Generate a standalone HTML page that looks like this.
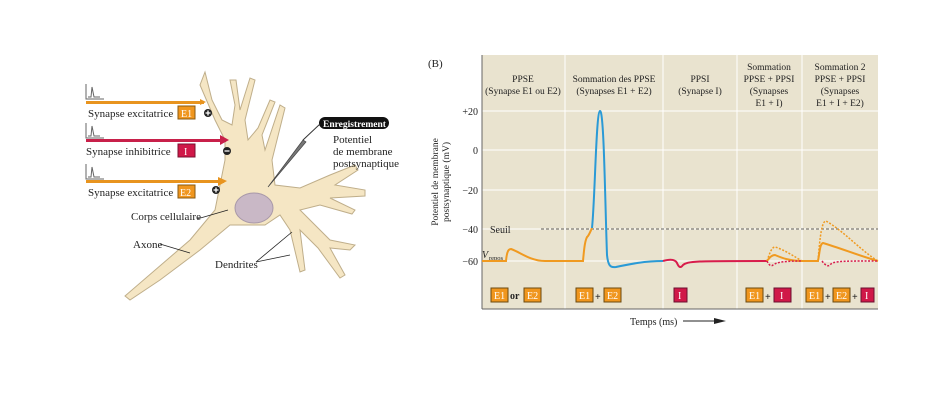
<!DOCTYPE html>
<html><head><meta charset="utf-8"><style>
body{margin:0;background:#fff;width:938px;height:402px;overflow:hidden}
svg text{font-family:"Liberation Serif",serif}
</style></head><body>
<svg width="938" height="402" viewBox="0 0 938 402" xmlns="http://www.w3.org/2000/svg">
<g stroke="#bfae8a" stroke-width="1" fill="#f5e6c4">
<path d="M205,72 L212,100 L222,120 L232,125 L235,105 L230,80 L236,80 L240,110 L250,78 L255,80 L245,120 L248,140 L258,128 L270,100 L275,102 L262,135 L265,150 L280,105 L285,108 L272,160 L275,185 L300,188 L330,175 L355,165 L358,170 L335,185 L365,190 L365,196 L330,198 L355,210 L352,214 L320,205 L300,210 L330,240 L355,245 L350,250 L330,248 L345,275 L340,278 L318,248 L300,230 L305,270 L300,272 L290,230 L280,215 L265,225 L230,225 L200,250 L160,280 L130,300 L125,296 L190,240 L215,210 L220,185 L225,160 L225,140 L215,120 L200,85 Z"/>
</g>
<ellipse cx="254" cy="208" rx="19" ry="15" fill="#c9b8c6" stroke="#a898a8"/>
<g stroke="#666" stroke-width="1" fill="none">
<polyline points="86,84 86,99 104,99"/><path d="M88,97 L91,97 L92,87 L94,97 L100,97"/>
<polyline points="86,123 86,138 104,138"/><path d="M88,136 L91,136 L92,126 L94,136 L100,136"/>
<polyline points="86,164 86,179 104,179"/><path d="M88,177 L91,177 L92,167 L94,177 L100,177"/>
</g>
<rect x="86" y="101" width="118" height="3" fill="#e8941f"/><path d="M200,99 L206,102 L200,105Z" fill="#e8941f"/>
<rect x="86" y="139" width="140" height="3" fill="#c8204a"/><path d="M220,135 L229,140 L220,145Z" fill="#c8204a"/>
<rect x="86" y="180" width="138" height="3" fill="#e8941f"/><path d="M218,177 L227,181 L218,186Z" fill="#e8941f"/>
<g font-size="11" fill="#222">
<text x="88" y="117">Synapse excitatrice</text>
<text x="86" y="155">Synapse inhibitrice</text>
<text x="88" y="196">Synapse excitatrice</text>
<text x="131" y="220">Corps cellulaire</text>
<text x="133" y="248">Axone</text>
<text x="215" y="268">Dendrites</text>
<text x="333" y="143">Potentiel</text>
<text x="333" y="155">de membrane</text>
<text x="333" y="167">postsynaptique</text>
</g>
<rect x="178" y="106" width="17" height="13" fill="#f0961e" stroke="#8a5a10"/><text x="181" y="117" font-size="10" fill="#fff">E1</text>
<rect x="178" y="144" width="17" height="13" fill="#d01848" stroke="#7a1030"/><text x="184" y="155" font-size="10" fill="#fff">I</text>
<rect x="178" y="185" width="17" height="13" fill="#f0961e" stroke="#8a5a10"/><text x="180" y="196" font-size="10" fill="#fff">E2</text>
<g fill="#222"><circle cx="208" cy="113" r="4"/><circle cx="227" cy="151" r="4"/><circle cx="216" cy="190" r="4"/></g>
<g stroke="#fff" stroke-width="1.3"><path d="M205.5,113h5M208,110.5v5M224.5,151h5M213.5,190h5M216,187.5v5"/></g>
<rect x="319" y="117" width="70" height="12" rx="6" fill="#111"/><text x="323" y="127" font-size="9.5" fill="#fff" font-weight="bold">Enregistrement</text>
<path d="M268,187 L303,140 L306,142Z" fill="#777" stroke="#444" stroke-width=".7"/>
<line x1="303" y1="140" x2="320" y2="124" stroke="#333"/>
<g stroke="#222" stroke-width=".8"><line x1="197" y1="219" x2="228" y2="210"/><line x1="160" y1="244" x2="190" y2="253"/><line x1="256" y1="262" x2="292" y2="232"/><line x1="256" y1="262" x2="290" y2="255"/></g>
<text x="428" y="67" font-size="11" fill="#222">(B)</text>
<rect x="482" y="55" width="396" height="254" fill="#e9e3cf"/>
<g stroke="#fff" stroke-width="1"><line x1="482" y1="111" x2="878" y2="111"/><line x1="482" y1="150" x2="878" y2="150"/><line x1="482" y1="190" x2="878" y2="190"/><line x1="482" y1="229" x2="878" y2="229"/><line x1="482" y1="261" x2="878" y2="261"/>
<line x1="565" y1="55" x2="565" y2="309"/><line x1="663" y1="55" x2="663" y2="309"/><line x1="737" y1="55" x2="737" y2="309"/><line x1="802" y1="55" x2="802" y2="309"/></g>
<line x1="482" y1="55" x2="482" y2="309" stroke="#666"/><line x1="482" y1="309" x2="878" y2="309" stroke="#666"/>
<g font-size="10" fill="#222" text-anchor="end"><text x="478" y="115">+20</text><text x="478" y="154">0</text><text x="478" y="194">−20</text><text x="478" y="233">−40</text><text x="478" y="265">−60</text></g>
<text transform="translate(438,182) rotate(-90)" font-size="9.5" fill="#222" text-anchor="middle">Potentiel de membrane</text>
<text transform="translate(449,182) rotate(-90)" font-size="9.5" fill="#222" text-anchor="middle">postsynaptique (mV)</text>
<g font-size="9.5" fill="#222" text-anchor="middle">
<text x="523" y="82">PPSE</text><text x="523" y="94">(Synapse E1 ou E2)</text>
<text x="614" y="82">Sommation des PPSE</text><text x="614" y="94">(Synapses E1 + E2)</text>
<text x="700" y="82">PPSI</text><text x="700" y="94">(Synapse I)</text>
<text x="769" y="70">Sommation</text><text x="769" y="82">PPSE + PPSI</text><text x="769" y="94">(Synapses</text><text x="769" y="106">E1 + I)</text>
<text x="840" y="70">Sommation 2</text><text x="840" y="82">PPSE + PPSI</text><text x="840" y="94">(Synapses</text><text x="840" y="106">E1 + I + E2)</text>
</g>
<text x="490" y="233" font-size="10" fill="#222">Seuil</text>
<text x="482" y="258" font-size="10" fill="#222" font-style="italic">V</text><text x="489" y="260" font-size="6.5" fill="#222">repos</text>
<line x1="541" y1="229" x2="878" y2="229" stroke="#666" stroke-dasharray="3,2"/>
<g fill="none" stroke-width="2">
<path d="M482,261 L506,261 C507,250 509,249 511,249 C520,252 530,261 545,261 L583,261 C584,250 585,238 588,236 C590,233 591,230 592,228" stroke="#f09a20"/>
<path d="M592,228 C595,200 596,112 600,111 C604,110 605,200 607,255 C608,265 610,268 616,267 C630,264 645,261 663,261" stroke="#2a9ad6"/>
<path d="M663,261 C670,259 675,259 677,263 C679,268 681,268 683,265 C688,261 695,261 767,261" stroke="#d81c4c"/>
<path d="M767,261 C770,257 772,255 775,255 C782,258 790,261 802,261 L818,261 C820,250 820,244 823,243 C840,248 860,256 878,261" stroke="#f09a20"/>
</g>
<g fill="none" stroke-width="1.5" stroke-dasharray="2,1.5">
<path d="M767,261 C770,252 772,247 775,247 C785,250 795,257 802,261" stroke="#f09a20"/>
<path d="M818,261 C820,235 822,221 826,221 C845,232 860,250 878,261" stroke="#f09a20"/>
<path d="M767,261 C769,265 771,267 773,265 C777,262 785,261 802,261" stroke="#d81c4c"/>
<path d="M822,261 C825,265 828,267 830,265 C833,261 840,261 878,261" stroke="#d81c4c"/>
</g>
<g font-size="10" fill="#fff">
<rect x="491" y="288" width="17" height="14" fill="#f0961e" stroke="#6a4a10"/><text x="494" y="299">E1</text>
<text x="510" y="299" fill="#222" font-weight="bold">or</text>
<rect x="524" y="288" width="17" height="14" fill="#f0961e" stroke="#6a4a10"/><text x="527" y="299">E2</text>
<rect x="576" y="288" width="17" height="14" fill="#f0961e" stroke="#6a4a10"/><text x="579" y="299">E1</text>
<text x="595" y="300" fill="#222" font-weight="bold">+</text>
<rect x="604" y="288" width="17" height="14" fill="#f0961e" stroke="#6a4a10"/><text x="607" y="299">E2</text>
<rect x="674" y="288" width="13" height="14" fill="#d01848" stroke="#6a1030"/><text x="678" y="299">I</text>
<rect x="746" y="288" width="17" height="14" fill="#f0961e" stroke="#6a4a10"/><text x="749" y="299">E1</text>
<text x="765" y="300" fill="#222" font-weight="bold">+</text>
<rect x="774" y="288" width="17" height="14" fill="#d01848" stroke="#6a1030"/><text x="780" y="299">I</text>
<rect x="806" y="288" width="17" height="14" fill="#f0961e" stroke="#6a4a10"/><text x="809" y="299">E1</text>
<text x="825" y="300" fill="#222" font-weight="bold">+</text>
<rect x="833" y="288" width="17" height="14" fill="#f0961e" stroke="#6a4a10"/><text x="836" y="299">E2</text>
<text x="852" y="300" fill="#222" font-weight="bold">+</text>
<rect x="861" y="288" width="13" height="14" fill="#d01848" stroke="#6a1030"/><text x="865" y="299">I</text>
</g>
<text x="630" y="325" font-size="10" fill="#222">Temps (ms)</text>
<line x1="683" y1="321" x2="720" y2="321" stroke="#222"/><path d="M714,318 L726,321 L714,324Z" fill="#222"/>
</svg>
</body></html>
